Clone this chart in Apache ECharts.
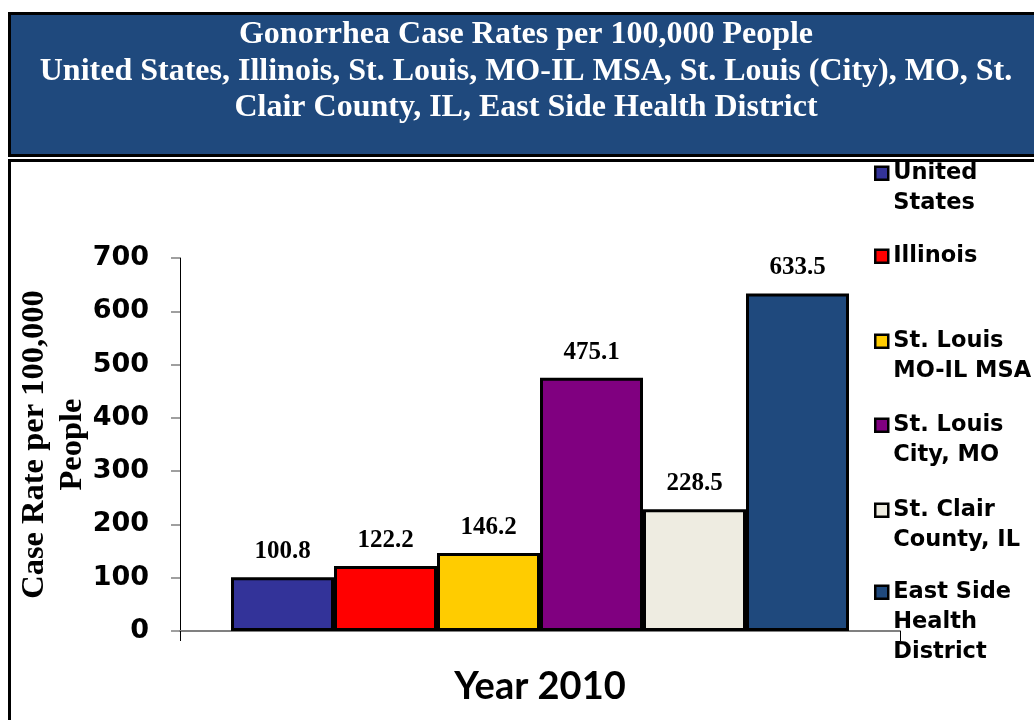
<!DOCTYPE html>
<html>
<head>
<meta charset="utf-8">
<title>Gonorrhea Case Rates per 100,000 People</title>
<script src="https://cdn.jsdelivr.net/npm/echarts@6/dist/echarts.min.js"></script>
<style>
  html, body { margin: 0; padding: 0; background: #ffffff; }
  #chart { width: 1034px; height: 720px; }
</style>
</head>
<body>
<div id="chart"></div>
<script>
// Gonorrhea case rates per 100,000 people, 2010
const categories = ['Year 2010'];
const seriesNames = [
  'United States',
  'Illinois',
  'St. Louis MO-IL MSA',
  'St. Louis City, MO',
  'St. Clair County, IL',
  'East Side Health District'
];
const legendLabels = [
  'United\nStates',
  'Illinois',
  'St. Louis\nMO-IL MSA',
  'St. Louis\nCity, MO',
  'St. Clair\nCounty, IL',
  'East Side\nHealth\nDistrict'
];
const rates = [100.8, 122.2, 146.2, 475.1, 228.5, 633.5];
const colors = ['#333399', '#FF0000', '#FFCC00', '#800080', '#EEECE1', '#1F497D'];
const yTicks = { min: 0, max: 700, interval: 100 };

const titleLines = [
  'Gonorrhea Case Rates per 100,000 People',
  'United States, Illinois, St. Louis, MO-IL MSA, St. Louis (City), MO, St.',
  'Clair County, IL, East Side Health District'
];

// layout
const grid = { left: 180, right: 134, top: 258, bottom: 89 };
const legendFirstLineY = [172, 255, 340, 424, 509, 591];
const LEGEND_LH = 30;
const SWATCH = 13;

const chart = echarts.init(document.getElementById('chart'), null, { renderer: 'canvas' });

const series = seriesNames.map((name, i) => ({
  name: name,
  type: 'bar',
  barWidth: 103,
  barGap: '0%',
  data: [rates[i]],
  itemStyle: { color: colors[i], borderColor: '#000000', borderWidth: 3 },
  label: {
    show: true,
    position: 'top',
    distance: 13,
    fontFamily: 'Liberation Serif',
    fontWeight: 'bold',
    fontSize: 25,
    color: '#000000',
    formatter: (p) => p.value.toFixed(1)
  }
}));

// Swatch path as tall as the label block, with the square level with the
// first text line (the two leading move-tos only set the path's extent).
function swatchPath(lines) {
  const h = lines * LEGEND_LH;
  const y0 = (LEGEND_LH - SWATCH) / 2;
  const y1 = y0 + SWATCH;
  return 'path://M0,0 M' + SWATCH + ',' + h +
    ' M0,' + y0 + ' L' + SWATCH + ',' + y0 + ' L' + SWATCH + ',' + y1 + ' L0,' + y1 + ' Z';
}

// one legend block per series so each entry keeps its own vertical slot
const legends = seriesNames.map((name, i) => {
  const n = legendLabels[i].split('\n').length;
  return {
    data: [name],
    orient: 'vertical',
    left: 874,
    top: legendFirstLineY[i] - LEGEND_LH / 2,
    padding: 0,
    itemWidth: SWATCH,
    itemHeight: n * LEGEND_LH,
    selectedMode: false,
    icon: swatchPath(n),
    itemStyle: { borderColor: '#000000', borderWidth: 2.5 },
    formatter: () => legendLabels[i],
    textStyle: {
      fontFamily: 'DejaVu Sans',
      fontWeight: 'bold',
      fontSize: 22.5,
      lineHeight: LEGEND_LH,
      color: '#000000'
    }
  };
});

const option = {
  animation: false,
  backgroundColor: '#ffffff',
  graphic: [
    {
      type: 'rect',
      z: -10,
      shape: { x: 9.5, y: 13.5, width: 1040, height: 142 },
      style: { fill: '#1F497D', stroke: '#000000', lineWidth: 3 }
    },
    {
      type: 'rect',
      z: -10,
      shape: { x: 9.5, y: 160.5, width: 1040, height: 580 },
      style: { fill: 'none', stroke: '#000000', lineWidth: 3 }
    },
    {
      type: 'text',
      z: 10,
      x: 526,
      y: 16.5,
      style: {
        text: titleLines.join('\n'),
        fill: '#ffffff',
        fontFamily: 'Liberation Serif',
        fontWeight: 'bold',
        fontSize: 32,
        lineHeight: 36.5,
        align: 'center',
        verticalAlign: 'top'
      }
    }
  ],
  legend: legends,
  grid: grid,
  xAxis: {
    type: 'category',
    data: categories,
    name: categories[0],
    nameLocation: 'middle',
    nameGap: 37,
    nameTextStyle: {
      fontFamily: 'Lato',
      fontWeight: 'bold',
      fontSize: 38,
      color: '#000000'
    },
    axisLine: { show: true, lineStyle: { color: '#808080', width: 2 } },
    axisTick: { show: true, length: 10, lineStyle: { color: '#000000', width: 1 } },
    axisLabel: { show: false },
    splitLine: { show: false }
  },
  yAxis: {
    type: 'value',
    min: yTicks.min,
    max: yTicks.max,
    interval: yTicks.interval,
    name: 'Case Rate per 100,000\nPeople',
    nameLocation: 'middle',
    nameRotate: 90,
    nameGap: 88,
    nameMoveOverlap: false,
    nameTextStyle: {
      fontFamily: 'Liberation Serif',
      fontWeight: 'bold',
      fontSize: 32.5,
      lineHeight: 38,
      color: '#000000'
    },
    axisLine: { show: true, lineStyle: { color: '#000000', width: 1 } },
    axisTick: { show: true, inside: false, length: 9, lineStyle: { color: '#808080', width: 1.5 } },
    axisLabel: {
      margin: 31,
      fontFamily: 'DejaVu Sans',
      fontWeight: 'bold',
      fontSize: 27,
      color: '#000000'
    },
    splitLine: { show: false }
  },
  series: series
};

chart.setOption(option);
</script>
</body>
</html>
